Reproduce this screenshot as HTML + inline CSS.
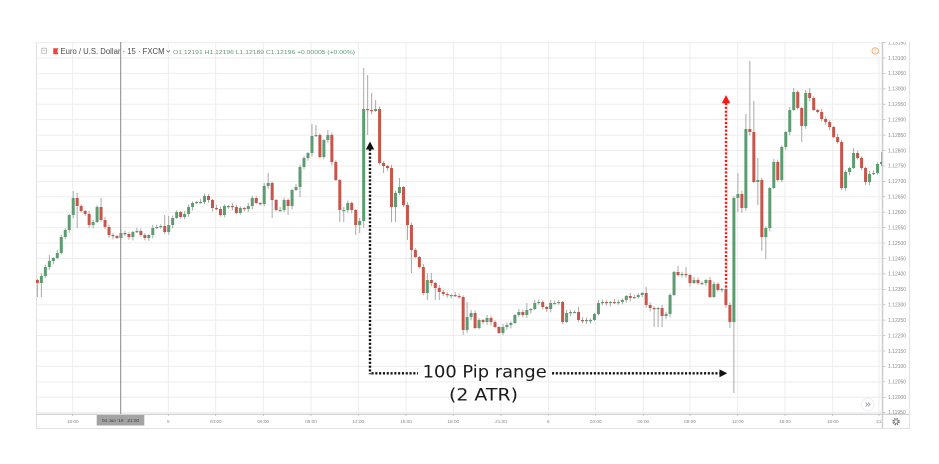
<!DOCTYPE html>
<html><head><meta charset="utf-8"><style>
html,body{margin:0;padding:0;background:#fff;width:939px;height:464px;overflow:hidden}
svg{display:block}
</style></head><body>
<svg width="939" height="464" viewBox="0 0 939 464" xmlns="http://www.w3.org/2000/svg" font-family="'Liberation Sans', Arial, sans-serif">
<defs><clipPath id="pane"><rect x="36" y="42" width="846" height="372"/></clipPath>
<clipPath id="axr"><rect x="883" y="42" width="26" height="372"/></clipPath>
<clipPath id="axb"><rect x="36" y="414" width="846" height="14"/></clipPath></defs>

<!-- grid -->
<path stroke="#ededed" stroke-width="1" fill="none" d="M36 42.58H882M36 58H882M36 73.42H882M36 88.84H882M36 104.26H882M36 119.68H882M36 135.1H882M36 150.52H882M36 165.94H882M36 181.36H882M36 196.78H882M36 212.2H882M36 227.62H882M36 243.04H882M36 258.46H882M36 273.88H882M36 289.3H882M36 304.72H882M36 320.14H882M36 335.56H882M36 350.98H882M36 366.4H882M36 381.82H882M36 397.24H882M36 412.66H882
M72.7 42V414M120.5 42V414M168.3 42V414M215.7 42V414M263.3 42V414M311 42V414M358.3 42V414M406 42V414M453.3 42V414M501 42V414M548.3 42V414M595.7 42V414M643.3 42V414M690 42V414M737.7 42V414M785 42V414M832.7 42V414M879 42V414"/>

<!-- widget borders -->
<path stroke="#e2e2e2" stroke-width="1" fill="none" d="M36.5 42V428.5H909.5V42"/>
<line x1="882.5" y1="42" x2="882.5" y2="428" stroke="#cdcdcd" stroke-width="1.5"/>
<line x1="36" y1="414.3" x2="909" y2="414.3" stroke="#cdcdcd" stroke-width="1.2"/>

<!-- candles -->
<g id="candles" clip-path="url(#pane)"></g>

<!-- crosshair -->
<line x1="120.7" y1="42" x2="120.7" y2="414" stroke="#8a8a8a" stroke-width="1"/>

<!-- legend -->
<rect x="41.8" y="48.2" width="4.6" height="5" fill="none" stroke="#a8a8a8" stroke-width="0.7"/>
<line x1="42.8" y1="50.7" x2="45.4" y2="50.7" stroke="#a8a8a8" stroke-width="0.6"/>
<path d="M53.2 48.3H58.4L57.2 51.3L58.4 54.3H53.2Z" fill="#f0443a"/>
<text x="60.5" y="54.2" font-size="8" fill="#4a4a4a" textLength="104" lengthAdjust="spacingAndGlyphs">Euro / U.S. Dollar · 15 · FXCM</text>
<path d="M166.5 50.3L168.3 52.1L170.1 50.3" fill="none" stroke="#666" stroke-width="0.7"/>
<text x="173" y="53.8" font-size="5.6" fill="#5f9a72" textLength="182" lengthAdjust="spacingAndGlyphs">O1.12191  H1.12196  L1.12189  C1.12196  +0.00005 (+0.00%)</text>

<!-- orange info icon -->
<circle cx="875.2" cy="51" r="3.2" fill="none" stroke="#f4a462" stroke-width="0.9"/>
<line x1="875.2" y1="49.3" x2="875.2" y2="51.4" stroke="#f4a462" stroke-width="0.8"/>
<circle cx="875.2" cy="52.6" r="0.45" fill="#f4a462"/>

<!-- price axis labels -->
<g clip-path="url(#axr)" font-size="5" fill="#8a8a8a">
<path stroke="#bbbbbb" stroke-width="0.7" d="M883 42.58h2.5M883 58h2.5M883 73.42h2.5M883 88.84h2.5M883 104.26h2.5M883 119.68h2.5M883 135.1h2.5M883 150.52h2.5M883 165.94h2.5M883 181.36h2.5M883 196.78h2.5M883 212.2h2.5M883 227.62h2.5M883 243.04h2.5M883 258.46h2.5M883 273.88h2.5M883 289.3h2.5M883 304.72h2.5M883 320.14h2.5M883 335.56h2.5M883 350.98h2.5M883 366.4h2.5M883 381.82h2.5M883 397.24h2.5M883 412.66h2.5"/>
<text x="888" y="44.4">1.13150</text>
<text x="888" y="59.8">1.13100</text>
<text x="888" y="75.2">1.13050</text>
<text x="888" y="90.6">1.13000</text>
<text x="888" y="106.1">1.12950</text>
<text x="888" y="121.5">1.12900</text>
<text x="888" y="136.9">1.12850</text>
<text x="888" y="152.3">1.12800</text>
<text x="888" y="167.7">1.12750</text>
<text x="888" y="183.2">1.12700</text>
<text x="888" y="198.6">1.12650</text>
<text x="888" y="214">1.12600</text>
<text x="888" y="229.4">1.12550</text>
<text x="888" y="244.8">1.12500</text>
<text x="888" y="260.3">1.12450</text>
<text x="888" y="275.7">1.12400</text>
<text x="888" y="291.1">1.12350</text>
<text x="888" y="306.5">1.12300</text>
<text x="888" y="321.9">1.12250</text>
<text x="888" y="337.4">1.12200</text>
<text x="888" y="352.8">1.12150</text>
<text x="888" y="368.2">1.12100</text>
<text x="888" y="383.6">1.12050</text>
<text x="888" y="399">1.12000</text>
<text x="888" y="414.2">1.11950</text>
</g>

<!-- time axis labels -->
<g font-size="4.7" fill="#8a8a8a" text-anchor="middle" clip-path="url(#axb)">
<path stroke="#bbbbbb" stroke-width="0.7" d="M72.7 414v2M168.3 414v2M215.7 414v2M263.3 414v2M311 414v2M358.3 414v2M406 414v2M453.3 414v2M501 414v2M548.3 414v2M595.7 414v2M643.3 414v2M690 414v2M737.7 414v2M785 414v2M832.7 414v2M879 414v2"/>
<text x="72.7" y="423.2">18:00</text>
<text x="168.3" y="423.2">5</text>
<text x="215.7" y="423.2">03:00</text>
<text x="263.3" y="423.2">06:00</text>
<text x="311" y="423.2">09:00</text>
<text x="358.3" y="423.2">12:00</text>
<text x="406" y="423.2">15:00</text>
<text x="453.3" y="423.2">18:00</text>
<text x="501" y="423.2">21:00</text>
<text x="548.3" y="423.2">6</text>
<text x="595.7" y="423.2">03:00</text>
<text x="643.3" y="423.2">06:00</text>
<text x="690" y="423.2">09:00</text>
<text x="737.7" y="423.2">12:00</text>
<text x="785" y="423.2">15:00</text>
<text x="832.7" y="423.2">18:00</text>
<text x="882" y="423.2">21:00</text>
</g>
<rect x="96.7" y="415" width="47.6" height="10.5" fill="#a3a3a3"/>
<text x="120.5" y="422.2" font-size="4.7" fill="#3c3c3c" text-anchor="middle" xml:space="preserve">04 Jun '19   21:00</text>

<!-- gear -->
<circle cx="896" cy="421.6" r="2.9" fill="none" stroke="#6a6a6a" stroke-width="1.6" stroke-dasharray="1.3 1"/>
<circle cx="896" cy="421.6" r="1.6" fill="#fff" stroke="#6a6a6a" stroke-width="0.6"/>

<!-- scroll icon -->
<circle cx="867.7" cy="404.5" r="6.3" fill="#fff" stroke="#eeeeee" stroke-width="1"/>
<path d="M865.6 402.6L867.5 404.5L865.6 406.4M868 402.6L869.9 404.5L868 406.4" fill="none" stroke="#8f9bb3" stroke-width="0.9"/>

<!-- annotations -->
<g fill="none" stroke-width="2.4" stroke-dasharray="2.1 1.7">
<line x1="370" y1="149" x2="370" y2="374.3" stroke="#111"/>
<line x1="371.5" y1="373.3" x2="418" y2="373.3" stroke="#111"/>
<line x1="552" y1="373.3" x2="720" y2="373.3" stroke="#111"/>
<line x1="726" y1="103" x2="726" y2="288" stroke="#ff1414"/>
</g>
<polygon points="370,141.5 365.8,149.5 374.2,149.5" fill="#111"/>
<polygon points="727.2,373.3 719.5,369.4 719.5,377.2" fill="#111"/>
<polygon points="726,95 721.8,103.3 730.2,103.3" fill="#ff1414"/>

<text x="422.7" y="377.3" font-family="'DejaVu Sans', Verdana, sans-serif" font-size="17" fill="#1a1a1a" textLength="124" lengthAdjust="spacingAndGlyphs">100 Pip range</text>
<text x="449" y="400.5" font-family="'DejaVu Sans', Verdana, sans-serif" font-size="17" fill="#1a1a1a" textLength="69" lengthAdjust="spacingAndGlyphs">(2 ATR)</text>
</svg>
<script>
(function(){
var L=[283,276,267,261,258,253,237,230,215,198,
206,211,214,225,222,207,220,227,235,236,
238,233,234,237,232,231,235,238,235,228,
227,226,232,225,218,212,217,214,207,203,
202,202,196,200,208,209,215,206,206,207,
213,208,209,206,198,203,204,186,183,200,
210,210,200,206,190,187,167,158,153,136,
135,157,140,135,162,180,210,210,203,210,
225,221,109,110,111,109,163,166,168,207,
193,187,205,225,250,257,267,293,280,283,
288,292,294,295,295,296,297,330,317,313,
328,320,322,318,322,327,333,327,325,323,
315,312,315,310,309,303,302,307,309,303,
303,302,322,313,312,312,320,321,320,320,
314,303,302,303,302,303,302,300,296,298,
297,295,293,305,308,309,308,316,314,295,
272,275,274,275];
var R=[283,280,283,283,280,297,284,290,289,305,
322,198,194,208,129,132,182,180,237,228,
188,162,180,147,132,110,92,108,126,93,
98,110,112,119,122,127,137,142,188,172,
168,153,158,168,182,174,173,164,162];
var HL={0:[null,297],1:[null,297],3:[255,null],9:[191,null],10:[193,228],16:[198,null],
32:[215,null],33:[216,null],58:[173,null],59:[null,218],63:[null,215],66:[null,197],
69:[124,null],70:[125,null],73:[130,null],76:[null,222],77:[null,222],80:[null,235],81:[null,233],
82:[68,228],83:[75,135],84:[93,null],85:[100,null],87:[null,173],89:[null,222],90:[null,222],
91:[178,null],93:[null,240],94:[null,273],98:[273,300],99:[273,null],100:[null,300],101:[null,300],
107:[null,335],108:[302,null],116:[null,334],123:[303,null],133:[null,323],136:[307,322],
153:[287,null],155:[null,327],156:[null,327],157:[null,327],161:[266,null],163:[267,null],
169:[null,298],174:[null,328],175:[196,393],176:[173,212],177:[null,213],178:[114,null],
179:[61,null],180:[101,null],181:[158,205],182:[null,251],183:[null,259],190:[88,null],
192:[null,142],194:[88,null],202:[null,190],205:[148,null],212:[152,null]};
var out='',prev=280,n=L.length+R.length;
for(var i=0;i<n;i++){
 var x=i<164?37.4+3.979*i:690+3.99*(i-164);
 var c=i<164?L[i]:R[i-164];
 var o=prev;
 var r1=1+((i*7)%4)*0.7,r2=1+((i*11)%5)*0.6;
 var h=Math.min(o,c)-r1,l=Math.max(o,c)+r2;
 var ov=HL[i];
 if(ov){if(ov[0]!==null)h=ov[0];if(ov[1]!==null)l=ov[1];}
 var up=c<=o,col=up?'#5c9c70':'#c8554a';
 var top=Math.min(o,c),bot=Math.max(o,c);
 if(bot-top<1.2)bot=top+1.2;
 var xs=x.toFixed(2);
 out+='<line x1="'+xs+'" y1="'+h+'" x2="'+xs+'" y2="'+l+'" stroke="#a9a9a9" stroke-width="1"/>';
 out+='<rect x="'+(x-1.5).toFixed(2)+'" y="'+top+'" width="3" height="'+(bot-top)+'" fill="'+col+'"/>';
 prev=c;
}
document.getElementById('candles').innerHTML=out;
})();
</script>
</body></html>
